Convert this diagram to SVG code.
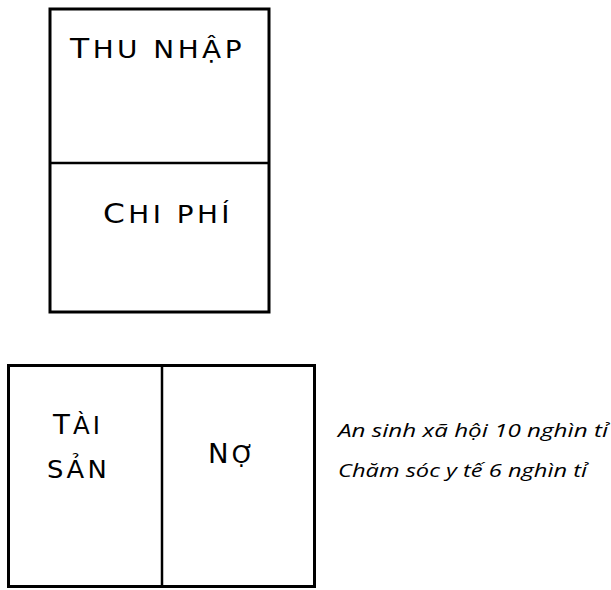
<svg xmlns="http://www.w3.org/2000/svg" width="611" height="590" viewBox="0 0 611 590">
<style>
.box{fill:none;stroke:#000;stroke-width:3}
.line{stroke:#000;stroke-width:2.5}
.cap{font-family:"DejaVu Sans","Noto Sans",sans-serif;fill:#000;font-weight:400;letter-spacing:3px}
.it{font-family:"Open Sans","Noto Sans",sans-serif;font-style:italic;font-weight:400;font-size:19px;fill:#000}
</style>
<rect width="611" height="590" fill="#fff"/>
<g id="top-box">
<rect class="box" x="50" y="9" width="219" height="303"/>
</g>
<g id="bottom-box">
<rect class="box" x="8.5" y="365.5" width="306" height="221"/>
</g>
<g id="connectors">
<line class="line" x1="50" y1="163" x2="269" y2="163"/>
<line class="line" x1="162" y1="365" x2="162" y2="587"/>
</g>
<g id="thu-nhap">
<text class="cap" x="70" y="58" textLength="175" lengthAdjust="spacingAndGlyphs"><tspan font-size="27">T</tspan><tspan font-size="24">HU NHẬP</tspan></text>
</g>
<g id="chi-phi">
<text class="cap" x="103" y="223" textLength="130" lengthAdjust="spacingAndGlyphs"><tspan font-size="27">C</tspan><tspan font-size="24">HI PHÍ</tspan></text>
</g>
<g id="tai-san">
<text class="cap" x="53" y="434" textLength="50" lengthAdjust="spacingAndGlyphs"><tspan font-size="27">T</tspan><tspan font-size="24">ÀI</tspan></text>
<text class="cap" x="47" y="478" textLength="63" lengthAdjust="spacingAndGlyphs" font-size="24">SẢN</text>
</g>
<g id="no">
<text class="cap" x="208" y="463" textLength="49" lengthAdjust="spacingAndGlyphs"><tspan font-size="27">N</tspan><tspan font-size="24">Ợ</tspan></text>
</g>
<g id="notes">
<text class="it" x="338" y="437" textLength="270" lengthAdjust="spacingAndGlyphs">An sinh xã hội 10 nghìn tỉ</text>
<text class="it" x="338" y="477" textLength="249" lengthAdjust="spacingAndGlyphs">Chăm sóc y tế 6 nghìn tỉ</text>
</g>
</svg>
